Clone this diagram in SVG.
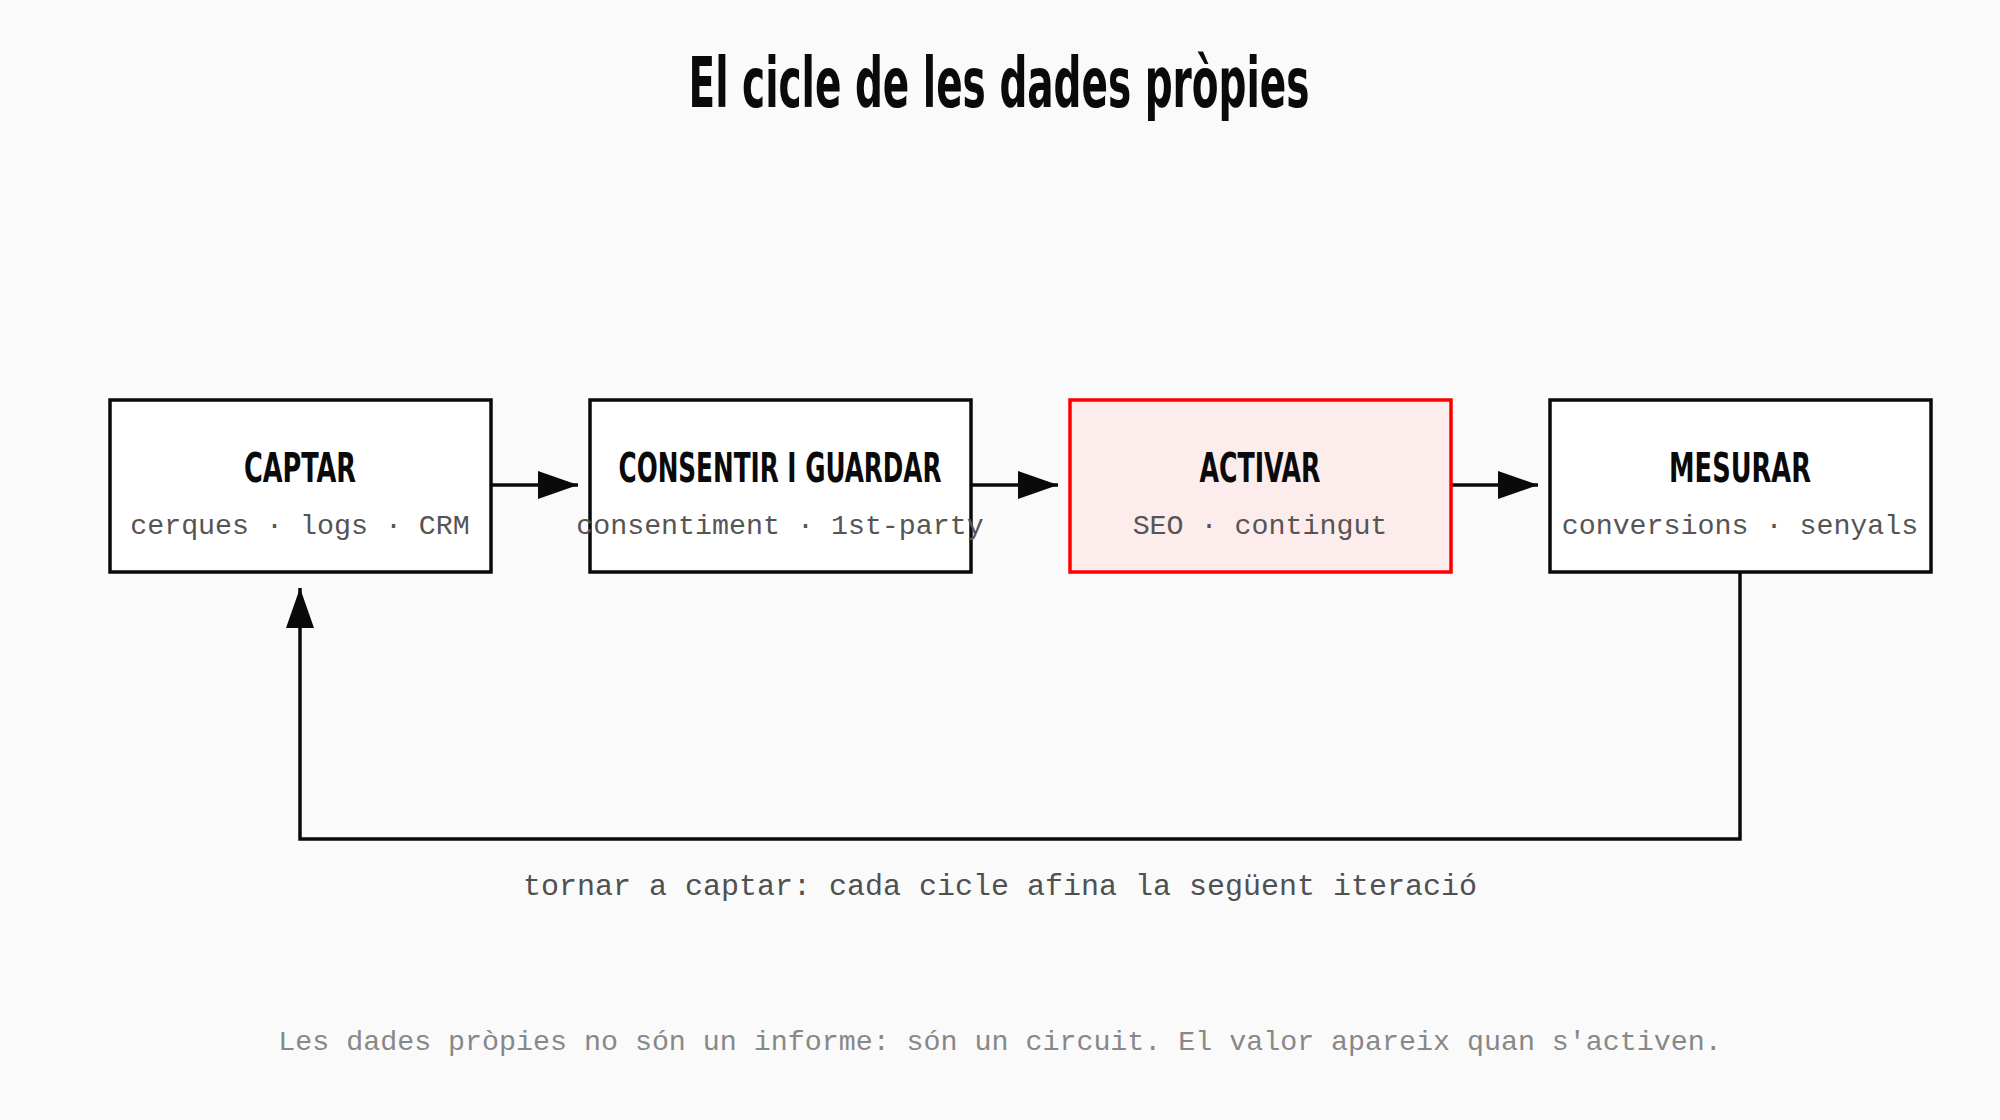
<svg xmlns="http://www.w3.org/2000/svg" width="2000" height="1120" viewBox="0 0 2000 1120">
<style>
.bg{fill:#fafafa}
.box{fill:#ffffff;stroke:#0a0a0a;stroke-width:3.5}
.hot{fill:#fdecec;stroke:#ff0000;stroke-width:3.5}
.hd{font-family:"Liberation Sans Narrow","DejaVu Sans Condensed","Liberation Sans",sans-serif;font-weight:700;fill:#0a0a0a;text-anchor:middle}
.sub{font-family:"Liberation Mono","DejaVu Sans Mono",monospace;font-size:28.3px;fill:#555555;text-anchor:middle}
.edge{fill:none;stroke:#0a0a0a;stroke-width:3.5}
.lbl{font-family:"Liberation Mono","DejaVu Sans Mono",monospace;font-size:30px;fill:#505050;text-anchor:middle}
.foot{font-family:"Liberation Mono","DejaVu Sans Mono",monospace;font-size:28.3px;fill:#888888;text-anchor:middle}
</style>
<defs>
<marker id="ah" viewBox="0 0 40 28" refX="40" refY="14" markerWidth="40" markerHeight="28" markerUnits="userSpaceOnUse" orient="auto">
<path d="M0,0 L40,14 L0,28 Z" fill="#0a0a0a"/>
</marker>
</defs>
<rect class="bg" x="0" y="0" width="2000" height="1120"/>
<text class="hd" x="999" y="107" font-size="70" textLength="621" lengthAdjust="spacingAndGlyphs">El cicle de les dades pròpies</text>
<g id="edges">
<line class="edge" x1="491" y1="485" x2="578" y2="485" marker-end="url(#ah)"/>
<line class="edge" x1="971" y1="485" x2="1058" y2="485" marker-end="url(#ah)"/>
<line class="edge" x1="1451" y1="485" x2="1538" y2="485" marker-end="url(#ah)"/>
<polyline class="edge" points="1740,572 1740,839 300,839 300,588" marker-end="url(#ah)"/>
<text class="lbl" x="1000" y="895">tornar a captar: cada cicle afina la següent iteració</text>
</g>
<g id="captar">
<rect class="box" x="110" y="400" width="381" height="172"/>
<text class="hd" x="300" y="482" font-size="40" textLength="112" lengthAdjust="spacingAndGlyphs">CAPTAR</text>
<text class="sub" x="300" y="534">cerques · logs · CRM</text>
</g>
<g id="consentir">
<rect class="box" x="590" y="400" width="381" height="172"/>
<text class="hd" x="780" y="482" font-size="40" textLength="323" lengthAdjust="spacingAndGlyphs">CONSENTIR I GUARDAR</text>
<text class="sub" x="780" y="534">consentiment · 1st-party</text>
</g>
<g id="activar">
<rect class="hot" x="1070" y="400" width="381" height="172"/>
<text class="hd" x="1260" y="482" font-size="40" textLength="121" lengthAdjust="spacingAndGlyphs">ACTIVAR</text>
<text class="sub" x="1260" y="534">SEO · contingut</text>
</g>
<g id="mesurar">
<rect class="box" x="1550" y="400" width="381" height="172"/>
<text class="hd" x="1740" y="482" font-size="40" textLength="142" lengthAdjust="spacingAndGlyphs">MESURAR</text>
<text class="sub" x="1740" y="534">conversions · senyals</text>
</g>
<text class="foot" x="1000" y="1050">Les dades pròpies no són un informe: són un circuit. El valor apareix quan s'activen.</text>
</svg>
